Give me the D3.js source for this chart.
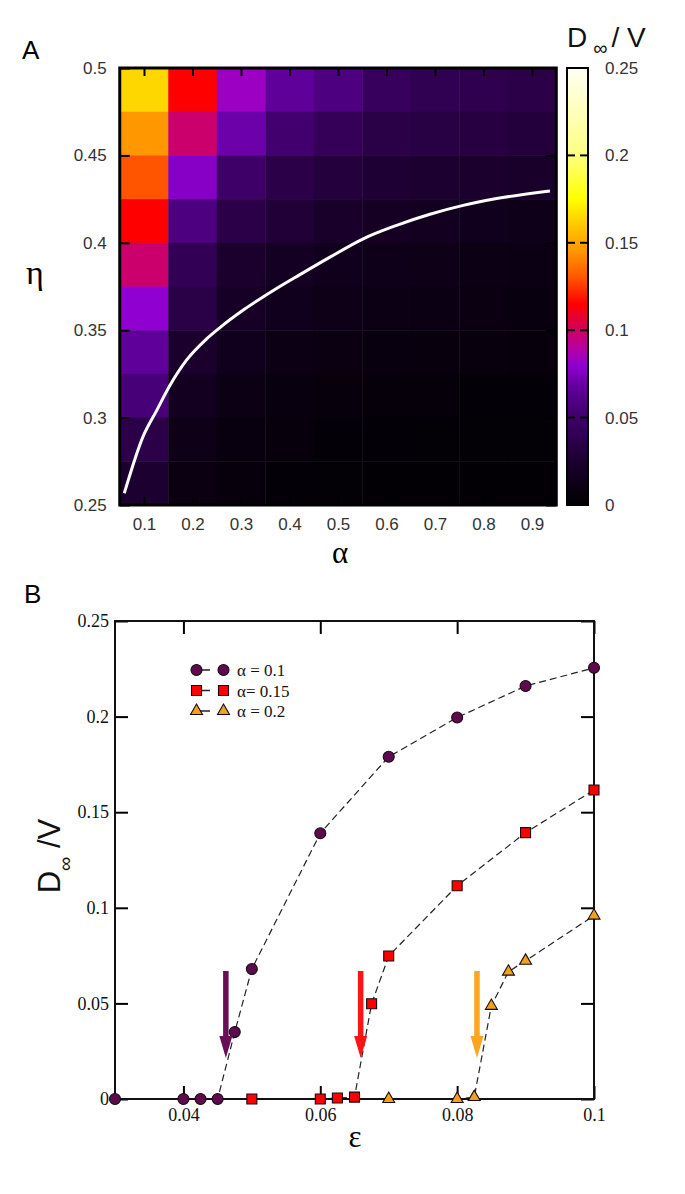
<!DOCTYPE html>
<html><head><meta charset="utf-8">
<script src="https://cdn.jsdelivr.net/npm/d3@7"></script>
<style>body{margin:0;background:#fff}svg{display:block}</style>
</head><body>
<svg id="chart" width="685" height="1194"></svg>
<script>
// ---------- Panel A data ----------
const alphaValues = [0.1, 0.2, 0.3, 0.4, 0.5, 0.6, 0.7, 0.8, 0.9];
const etaValues = [0.4875, 0.4625, 0.4375, 0.4125, 0.3875, 0.3625, 0.3375, 0.3125, 0.2875, 0.2625];
const heatValues = [
  [0.164, 0.115, 0.083, 0.066, 0.058, 0.045, 0.040, 0.038, 0.036],
  [0.146, 0.098, 0.070, 0.052, 0.043, 0.035, 0.034, 0.032, 0.030],
  [0.130, 0.077, 0.050, 0.036, 0.031, 0.027, 0.025, 0.024, 0.022],
  [0.115, 0.058, 0.036, 0.028, 0.022, 0.019, 0.017, 0.015, 0.013],
  [0.098, 0.041, 0.024, 0.018, 0.015, 0.013, 0.012, 0.011, 0.010],
  [0.080, 0.035, 0.020, 0.015, 0.012, 0.011, 0.010, 0.009, 0.008],
  [0.066, 0.024, 0.015, 0.011, 0.009, 0.008, 0.007, 0.007, 0.006],
  [0.055, 0.017, 0.011, 0.008, 0.006, 0.005, 0.005, 0.004, 0.004],
  [0.036, 0.012, 0.008, 0.006, 0.004, 0.004, 0.003, 0.003, 0.003],
  [0.025, 0.009, 0.006, 0.004, 0.003, 0.002, 0.002, 0.002, 0.002]
];
const boundaryAlpha = [0.0594, 0.0986, 0.126, 0.1536, 0.188, 0.229, 0.2567, 0.3047, 0.3666, 0.4216, 0.4835, 0.552, 0.621, 0.6897, 0.758, 0.827, 0.937];
const boundaryEta   = [0.2567, 0.2895, 0.3040, 0.3185, 0.3330, 0.3450, 0.3515, 0.3615, 0.3727, 0.3818, 0.3918, 0.4023, 0.4100, 0.4163, 0.4214, 0.4253, 0.4297];
const colorStops = [0, 0.025, 0.05, 0.065, 0.08, 0.09, 0.1, 0.115, 0.13, 0.145, 0.16, 0.175, 0.2, 0.25];
const colorHex = ["#000000", "#1c0030", "#3e0068", "#5a0095", "#9000d0", "#b800a0", "#d00060", "#ff0000", "#ff5500", "#ff9500", "#ffc800", "#ffff00", "#ffff80", "#fffff5"];
const alphaTicks = [0.1, 0.2, 0.3, 0.4, 0.5, 0.6, 0.7, 0.8, 0.9];
const etaTicks = [0.25, 0.3, 0.35, 0.4, 0.45, 0.5];
const cbTicks = [0, 0.05, 0.1, 0.15, 0.2, 0.25];

// ---------- Panel B data ----------
const eps01 = [0.03, 0.04, 0.0425, 0.045, 0.0475, 0.05, 0.06, 0.07, 0.08, 0.09, 0.1];
const d01   = [0, 0, 0, 0, 0.035, 0.068, 0.139, 0.179, 0.1995, 0.216, 0.2255];
const eps015 = [0.05, 0.06, 0.0625, 0.065, 0.0675, 0.07, 0.08, 0.09, 0.1];
const d015   = [0, 0, 0.0005, 0.001, 0.0498, 0.0748, 0.1115, 0.1393, 0.1616];
const eps02 = [0.07, 0.08, 0.0825, 0.085, 0.0875, 0.09, 0.1];
const d02   = [0, 0, 0.001, 0.0487, 0.0666, 0.0723, 0.0959];
const seriesNames = ["α = 0.1", "α= 0.15", "α = 0.2"];
const seriesColors = ["#5e0b4d", "#ff0000", "#eea21f"];
const arrowEps = [0.0462, 0.0659, 0.0829];
const arrowColors = ["#6a0e58", "#ff1414", "#ffa520"];
const arrowFrom = 0.067, arrowTo = 0.0215;
const epsTicks = [0.04, 0.06, 0.08, 0.1];
const dTicks = [0, 0.05, 0.1, 0.15, 0.2, 0.25];

const svg = d3.select("#chart");
const SANS = "'Liberation Sans', Arial, Helvetica, sans-serif";
const SERIF = "'Liberation Serif', 'Times New Roman', serif";

// ================= Panel A =================
const ax = d3.scaleLinear().domain([0.05, 0.95]).range([119.75, 556.25]);
const ay = d3.scaleLinear().domain([0.25, 0.5]).range([505, 68]);
const color = d3.scaleLinear().domain(colorStops).range(colorHex).interpolate(d3.interpolateRgb).clamp(true);

const gA = svg.append("g");
const cells = [];
etaValues.forEach((e, i) => alphaValues.forEach((a, j) => cells.push({a, e, v: heatValues[i][j]})));
gA.selectAll("rect.cell").data(cells).join("rect")
  .attr("class", "cell")
  .attr("x", d => ax(d.a - 0.05))
  .attr("y", d => ay(d.e + 0.0125))
  .attr("width", d => ax(d.a + 0.05) - ax(d.a - 0.05) + 0.5)
  .attr("height", d => ay(d.e - 0.0125) - ay(d.e + 0.0125) + 0.5)
  .attr("fill", d => color(d.v));

// boundary curve
const bLine = d3.line().x(d => ax(d[0])).y(d => ay(d[1])).curve(d3.curveMonotoneX);
gA.append("path")
  .attr("d", bLine(boundaryAlpha.map((a, i) => [a, boundaryEta[i]])))
  .attr("fill", "none").attr("stroke", "#fff").attr("stroke-width", 3);

function styleAxis(g, fontFam, size, col) {
  g.select(".domain").remove();
  g.selectAll(".tick line").attr("stroke", "#000").attr("stroke-width", 2);
  g.selectAll(".tick text").attr("font-family", fontFam).attr("font-size", size).attr("fill", col);
}
const fmt = d => String(d);
gA.append("g").attr("transform", "translate(0,505)")
  .call(d3.axisBottom(ax).tickValues(alphaTicks).tickSizeInner(-8).tickSizeOuter(0).tickPadding(13).tickFormat(fmt))
  .call(g => styleAxis(g, SANS, 17, "#333"));
gA.append("g").attr("transform", "translate(0,68)")
  .call(d3.axisTop(ax).tickValues(alphaTicks).tickSizeInner(-8).tickSizeOuter(0).tickFormat(""))
  .call(g => styleAxis(g, SANS, 17, "#333"));
gA.append("g").attr("transform", "translate(119.75,0)")
  .call(d3.axisLeft(ay).tickValues(etaTicks).tickSizeInner(-10).tickSizeOuter(0).tickPadding(13).tickFormat(fmt))
  .call(g => styleAxis(g, SANS, 17, "#333"));
gA.append("g").attr("transform", "translate(556.25,0)")
  .call(d3.axisRight(ay).tickValues(etaTicks).tickSizeInner(-10).tickSizeOuter(0).tickFormat(""))
  .call(g => styleAxis(g, SANS, 17, "#333"));
gA.append("rect").attr("x", 119.75).attr("y", 68).attr("width", 556.25 - 119.75).attr("height", 505 - 68)
  .attr("fill", "none").attr("stroke", "#000").attr("stroke-width", 3);

// colorbar
const cb = d3.scaleLinear().domain([0, 0.25]).range([505, 68]);
const grad = svg.append("defs").append("linearGradient").attr("id", "cbgrad")
  .attr("x1", 0).attr("y1", 1).attr("x2", 0).attr("y2", 0);
d3.range(0, 1.0001, 0.01).forEach(t => {
  grad.append("stop").attr("offset", t).attr("stop-color", color(t * 0.25));
});
const cbX = 567, cbW = 21;
svg.append("rect").attr("x", cbX).attr("y", cb(0.25)).attr("width", cbW).attr("height", cb(0) - cb(0.25))
  .attr("fill", "url(#cbgrad)").attr("stroke", "#000").attr("stroke-width", 2);
const innerTicks = cbTicks.filter(t => t > 0 && t < 0.25);
svg.append("g").selectAll("line.l").data(innerTicks).join("line")
  .attr("x1", cbX).attr("x2", cbX + 8).attr("y1", d => cb(d)).attr("y2", d => cb(d))
  .attr("stroke", "#000").attr("stroke-width", 2);
svg.append("g").selectAll("line.r").data(innerTicks).join("line")
  .attr("x1", cbX + cbW - 8).attr("x2", cbX + cbW).attr("y1", d => cb(d)).attr("y2", d => cb(d))
  .attr("stroke", "#000").attr("stroke-width", 2);
svg.append("g").attr("transform", `translate(${cbX + cbW},0)`)
  .call(d3.axisRight(cb).tickValues(cbTicks).tickSize(0).tickPadding(17).tickFormat(fmt))
  .call(g => styleAxis(g, SANS, 17, "#333"));

// colorbar title
const cbt = svg.append("text").attr("x", 567).attr("y", 47).attr("font-family", SANS).attr("fill", "#111");
cbt.append("tspan").attr("font-size", 28).text("D");
cbt.append("tspan").attr("font-size", 20).attr("dx", 6).attr("dy", 8).text("∞");
cbt.append("tspan").attr("font-size", 28).attr("dx", 4).attr("dy", -8).text("/ V");

// axis titles A
svg.append("text").attr("x", 35).attr("y", 284).attr("text-anchor", "middle")
  .attr("font-family", SERIF).attr("font-size", 34).text("η");
svg.append("text").attr("x", 340).attr("y", 563).attr("text-anchor", "middle")
  .attr("font-family", SERIF).attr("font-size", 31).text("α");
svg.append("text").attr("x", 22).attr("y", 59).attr("font-family", SANS).attr("font-size", 26).text("A");

// ================= Panel B =================
const bx = d3.scaleLinear().domain([0.03, 0.1]).range([115, 594]);
const by = d3.scaleLinear().domain([0, 0.25]).range([1099, 621]);
const gB = svg.append("g");

const series = [
  {eps: eps01, d: d01, sym: d3.symbolCircle, size: 95},
  {eps: eps015, d: d015, sym: d3.symbolSquare, size: 100},
  {eps: eps02, d: d02, sym: d3.symbolTriangle, size: 62}
];
const line = d3.line().x(d => bx(d[0])).y(d => by(d[1]));
series.forEach(s => {
  gB.append("path").attr("d", line(s.eps.map((e, i) => [e, s.d[i]])))
    .attr("fill", "none").attr("stroke", "#222").attr("stroke-width", 1.2).attr("stroke-dasharray", "7,4");
});

// frame + axes
gB.append("g").attr("transform", "translate(0,1099)")
  .call(d3.axisBottom(bx).tickValues(epsTicks).tickSizeInner(-13).tickSizeOuter(0).tickPadding(9).tickFormat(fmt))
  .call(g => styleAxis(g, SERIF, 18, "#111"));
gB.append("g").attr("transform", "translate(0,621)")
  .call(d3.axisTop(bx).tickValues(epsTicks).tickSizeInner(-13).tickSizeOuter(0).tickFormat(""))
  .call(g => styleAxis(g, SERIF, 18, "#111"));
gB.append("g").attr("transform", "translate(115,0)")
  .call(d3.axisLeft(by).tickValues(dTicks).tickSizeInner(-13).tickSizeOuter(0).tickPadding(6).tickFormat(fmt))
  .call(g => styleAxis(g, SERIF, 18, "#111"));
gB.append("g").attr("transform", "translate(594,0)")
  .call(d3.axisRight(by).tickValues(dTicks).tickSizeInner(-13).tickSizeOuter(0).tickFormat(""))
  .call(g => styleAxis(g, SERIF, 18, "#111"));
gB.append("rect").attr("x", 115).attr("y", 621).attr("width", 594 - 115).attr("height", 1099 - 621)
  .attr("fill", "none").attr("stroke", "#111").attr("stroke-width", 2);

// markers
series.forEach((s, k) => {
  const gen = d3.symbol().type(s.sym).size(s.size);
  gB.append("g").selectAll("path").data(s.eps.map((e, i) => [e, s.d[i]])).join("path")
    .attr("transform", d => `translate(${bx(d[0])},${by(d[1])})`)
    .attr("d", gen())
    .attr("fill", seriesColors[k]).attr("stroke", "#1a0a10").attr("stroke-width", 1.1);
});

// arrows
arrowEps.forEach((e, k) => {
  const x = bx(e), y0 = by(arrowFrom), y1 = by(arrowTo);
  const headLen = 22, shaftW = 5.5, headW = 13;
  const p = `M${x - shaftW / 2},${y0} L${x + shaftW / 2},${y0} L${x + shaftW / 2},${y1 - headLen} L${x + headW / 2},${y1 - headLen} L${x},${y1} L${x - headW / 2},${y1 - headLen} L${x - shaftW / 2},${y1 - headLen} Z`;
  gB.append("path").attr("d", p).attr("fill", arrowColors[k]);
});

// legend
const legY = [670, 690.5, 711];
series.forEach((s, k) => {
  const gen = d3.symbol().type(s.sym).size(s.size);
  gB.append("line").attr("x1", 196.5).attr("x2", 210).attr("y1", legY[k]).attr("y2", legY[k])
    .attr("stroke", "#222").attr("stroke-width", 1.5);
  [196.5, 223.5].forEach(x => {
    gB.append("path").attr("transform", `translate(${x},${legY[k]})`).attr("d", gen())
      .attr("fill", seriesColors[k]).attr("stroke", "#1a0a10").attr("stroke-width", 1.1);
  });
  gB.append("text").attr("x", 237).attr("y", legY[k] + 6).attr("font-family", SERIF).attr("font-size", 17)
    .attr("fill", "#111").text(seriesNames[k]);
});

// axis titles B
svg.append("text").attr("x", 355).attr("y", 1147).attr("text-anchor", "middle")
  .attr("font-family", SERIF).attr("font-size", 31).text("ε");
const yl = svg.append("text").attr("transform", "translate(60,856) rotate(-90)").attr("text-anchor", "middle")
  .attr("font-family", SANS).attr("fill", "#111");
yl.append("tspan").attr("font-size", 31).text("D");
yl.append("tspan").attr("font-size", 20).attr("dy", 12).text("∞");
yl.append("tspan").attr("font-size", 31).attr("dy", -12).text(" /V");
svg.append("text").attr("x", 24).attr("y", 603).attr("font-family", SANS).attr("font-size", 26).text("B");
</script>
</body></html>
